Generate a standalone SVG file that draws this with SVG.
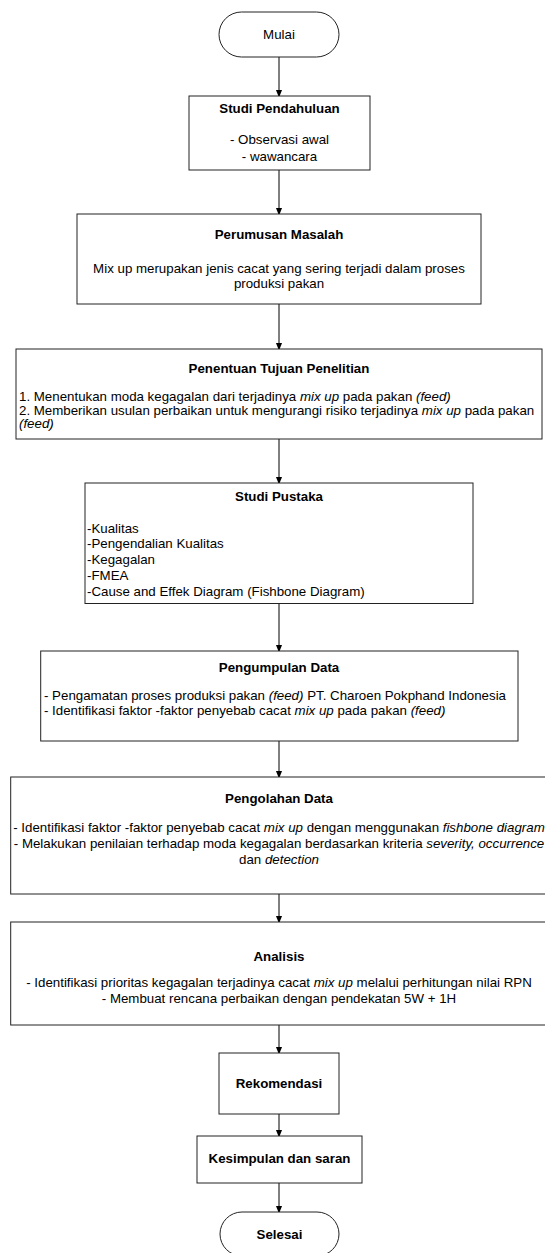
<svg xmlns="http://www.w3.org/2000/svg" width="545" height="1253" viewBox="0 0 545 1253">
<style>
.box{fill:#fff;stroke:#222;stroke-width:1}
.t{font-family:"Liberation Sans",Arial,sans-serif;font-size:13.3px;fill:#000}
.b{font-weight:bold}
.c{text-anchor:middle}
.i{font-style:italic}
.con{stroke:#000;stroke-width:1;fill:none;marker-end:url(#ah)}
</style>
<defs>
<marker id="ah" markerWidth="8" markerHeight="10" refX="8" refY="4" orient="auto" markerUnits="userSpaceOnUse" viewBox="0 0 10 8">
<path d="M0,0 L10,4 L0,8 z" fill="#000"/>
</marker>
</defs>
<rect width="545" height="1253" fill="#fff"/>
<g id="connectors">
<line class="con" x1="279" y1="57" x2="279" y2="96"/>
<line class="con" x1="279" y1="170" x2="279" y2="214"/>
<line class="con" x1="279" y1="304" x2="279" y2="349"/>
<line class="con" x1="279" y1="439" x2="279" y2="483"/>
<line class="con" x1="279" y1="603.5" x2="279" y2="651"/>
<line class="con" x1="279" y1="741" x2="279" y2="777"/>
<line class="con" x1="279" y1="894" x2="279" y2="922"/>
<line class="con" x1="279" y1="1025" x2="279" y2="1053"/>
<line class="con" x1="279" y1="1114" x2="279" y2="1136"/>
<line class="con" x1="279" y1="1183" x2="279" y2="1212"/>
</g>
<g id="mulai">
<rect class="box" x="219" y="12" width="120" height="45" rx="22.5"/>
<text class="t c" x="279" y="39">Mulai</text>
</g>
<g id="studi-pendahuluan">
<rect class="box" x="189" y="96" width="181" height="74"/>
<text class="t b c" x="279.5" y="113">Studi Pendahuluan</text>
<text class="t c" x="279.5" y="144">- Observasi awal</text>
<text class="t c" x="279.5" y="160.5">- wawancara</text>
</g>
<g id="perumusan-masalah">
<rect class="box" x="77" y="214" width="404" height="90"/>
<text class="t b c" x="279" y="238.7">Perumusan Masalah</text>
<text class="t c" x="279" y="273">Mix up merupakan jenis cacat yang sering terjadi dalam proses</text>
<text class="t c" x="279" y="288">produksi pakan</text>
</g>
<g id="penentuan-tujuan">
<rect class="box" x="16" y="349" width="526" height="90"/>
<text class="t b c" x="279" y="372.7">Penentuan Tujuan Penelitian</text>
<text class="t" x="19" y="401.4">1. Menentukan moda kegagalan dari terjadinya <tspan class="i">mix up</tspan> pada pakan <tspan class="i">(feed)</tspan></text>
<text class="t" x="19" y="414.7">2. Memberikan usulan perbaikan untuk mengurangi risiko terjadinya <tspan class="i">mix up</tspan> pada pakan</text>
<text class="t i" x="19" y="427.7">(feed)</text>
</g>
<g id="studi-pustaka">
<rect class="box" x="85" y="483" width="388" height="120.5"/>
<text class="t b c" x="279" y="500.7">Studi Pustaka</text>
<text class="t" x="87" y="532.7">-Kualitas</text>
<text class="t" x="87" y="547.9">-Pengendalian Kualitas</text>
<text class="t" x="87" y="563.7">-Kegagalan</text>
<text class="t" x="87" y="579.7">-FMEA</text>
<text class="t" x="87" y="595.7">-Cause and Effek Diagram (Fishbone Diagram)</text>
</g>
<g id="pengumpulan-data">
<rect class="box" x="40.7" y="651" width="477.3" height="90"/>
<text class="t b c" x="279" y="671.7">Pengumpulan Data</text>
<text class="t" x="44" y="699.7">- Pengamatan proses produksi pakan <tspan class="i">(feed)</tspan> PT. Charoen Pokphand Indonesia</text>
<text class="t" x="44" y="715.2">- Identifikasi faktor -faktor penyebab cacat <tspan class="i">mix up</tspan> pada pakan <tspan class="i">(feed)</tspan></text>
</g>
<g id="pengolahan-data">
<rect class="box" x="10.7" y="777" width="536.6" height="117"/>
<text class="t b c" x="279" y="803.2">Pengolahan Data</text>
<text class="t c" x="279" y="831.7">- Identifikasi faktor -faktor penyebab cacat <tspan class="i">mix up</tspan> dengan menggunakan <tspan class="i">fishbone diagram</tspan></text>
<text class="t c" x="279" y="847.7">- Melakukan penilaian terhadap moda kegagalan berdasarkan kriteria <tspan class="i">severity, occurrence</tspan></text>
<text class="t c" x="279" y="863.7">dan <tspan class="i">detection</tspan></text>
</g>
<g id="analisis">
<rect class="box" x="10.7" y="922" width="536.6" height="103"/>
<text class="t b c" x="279" y="960.7">Analisis</text>
<text class="t c" x="279" y="987.2">- Identifikasi prioritas kegagalan terjadinya cacat  <tspan class="i">mix up</tspan> melalui perhitungan nilai RPN</text>
<text class="t c" x="279" y="1002.7">- Membuat rencana perbaikan dengan pendekatan 5W + 1H</text>
</g>
<g id="rekomendasi">
<rect class="box" x="219" y="1053" width="120" height="61"/>
<text class="t b c" x="279" y="1087.7">Rekomendasi</text>
</g>
<g id="kesimpulan">
<rect class="box" x="197" y="1136" width="165" height="47"/>
<text class="t b c" x="279.5" y="1162.7">Kesimpulan dan saran</text>
</g>
<g id="selesai">
<rect class="box" x="220" y="1212" width="119" height="44" rx="22"/>
<text class="t b c" x="279.5" y="1238.7">Selesai</text>
</g>
</svg>
